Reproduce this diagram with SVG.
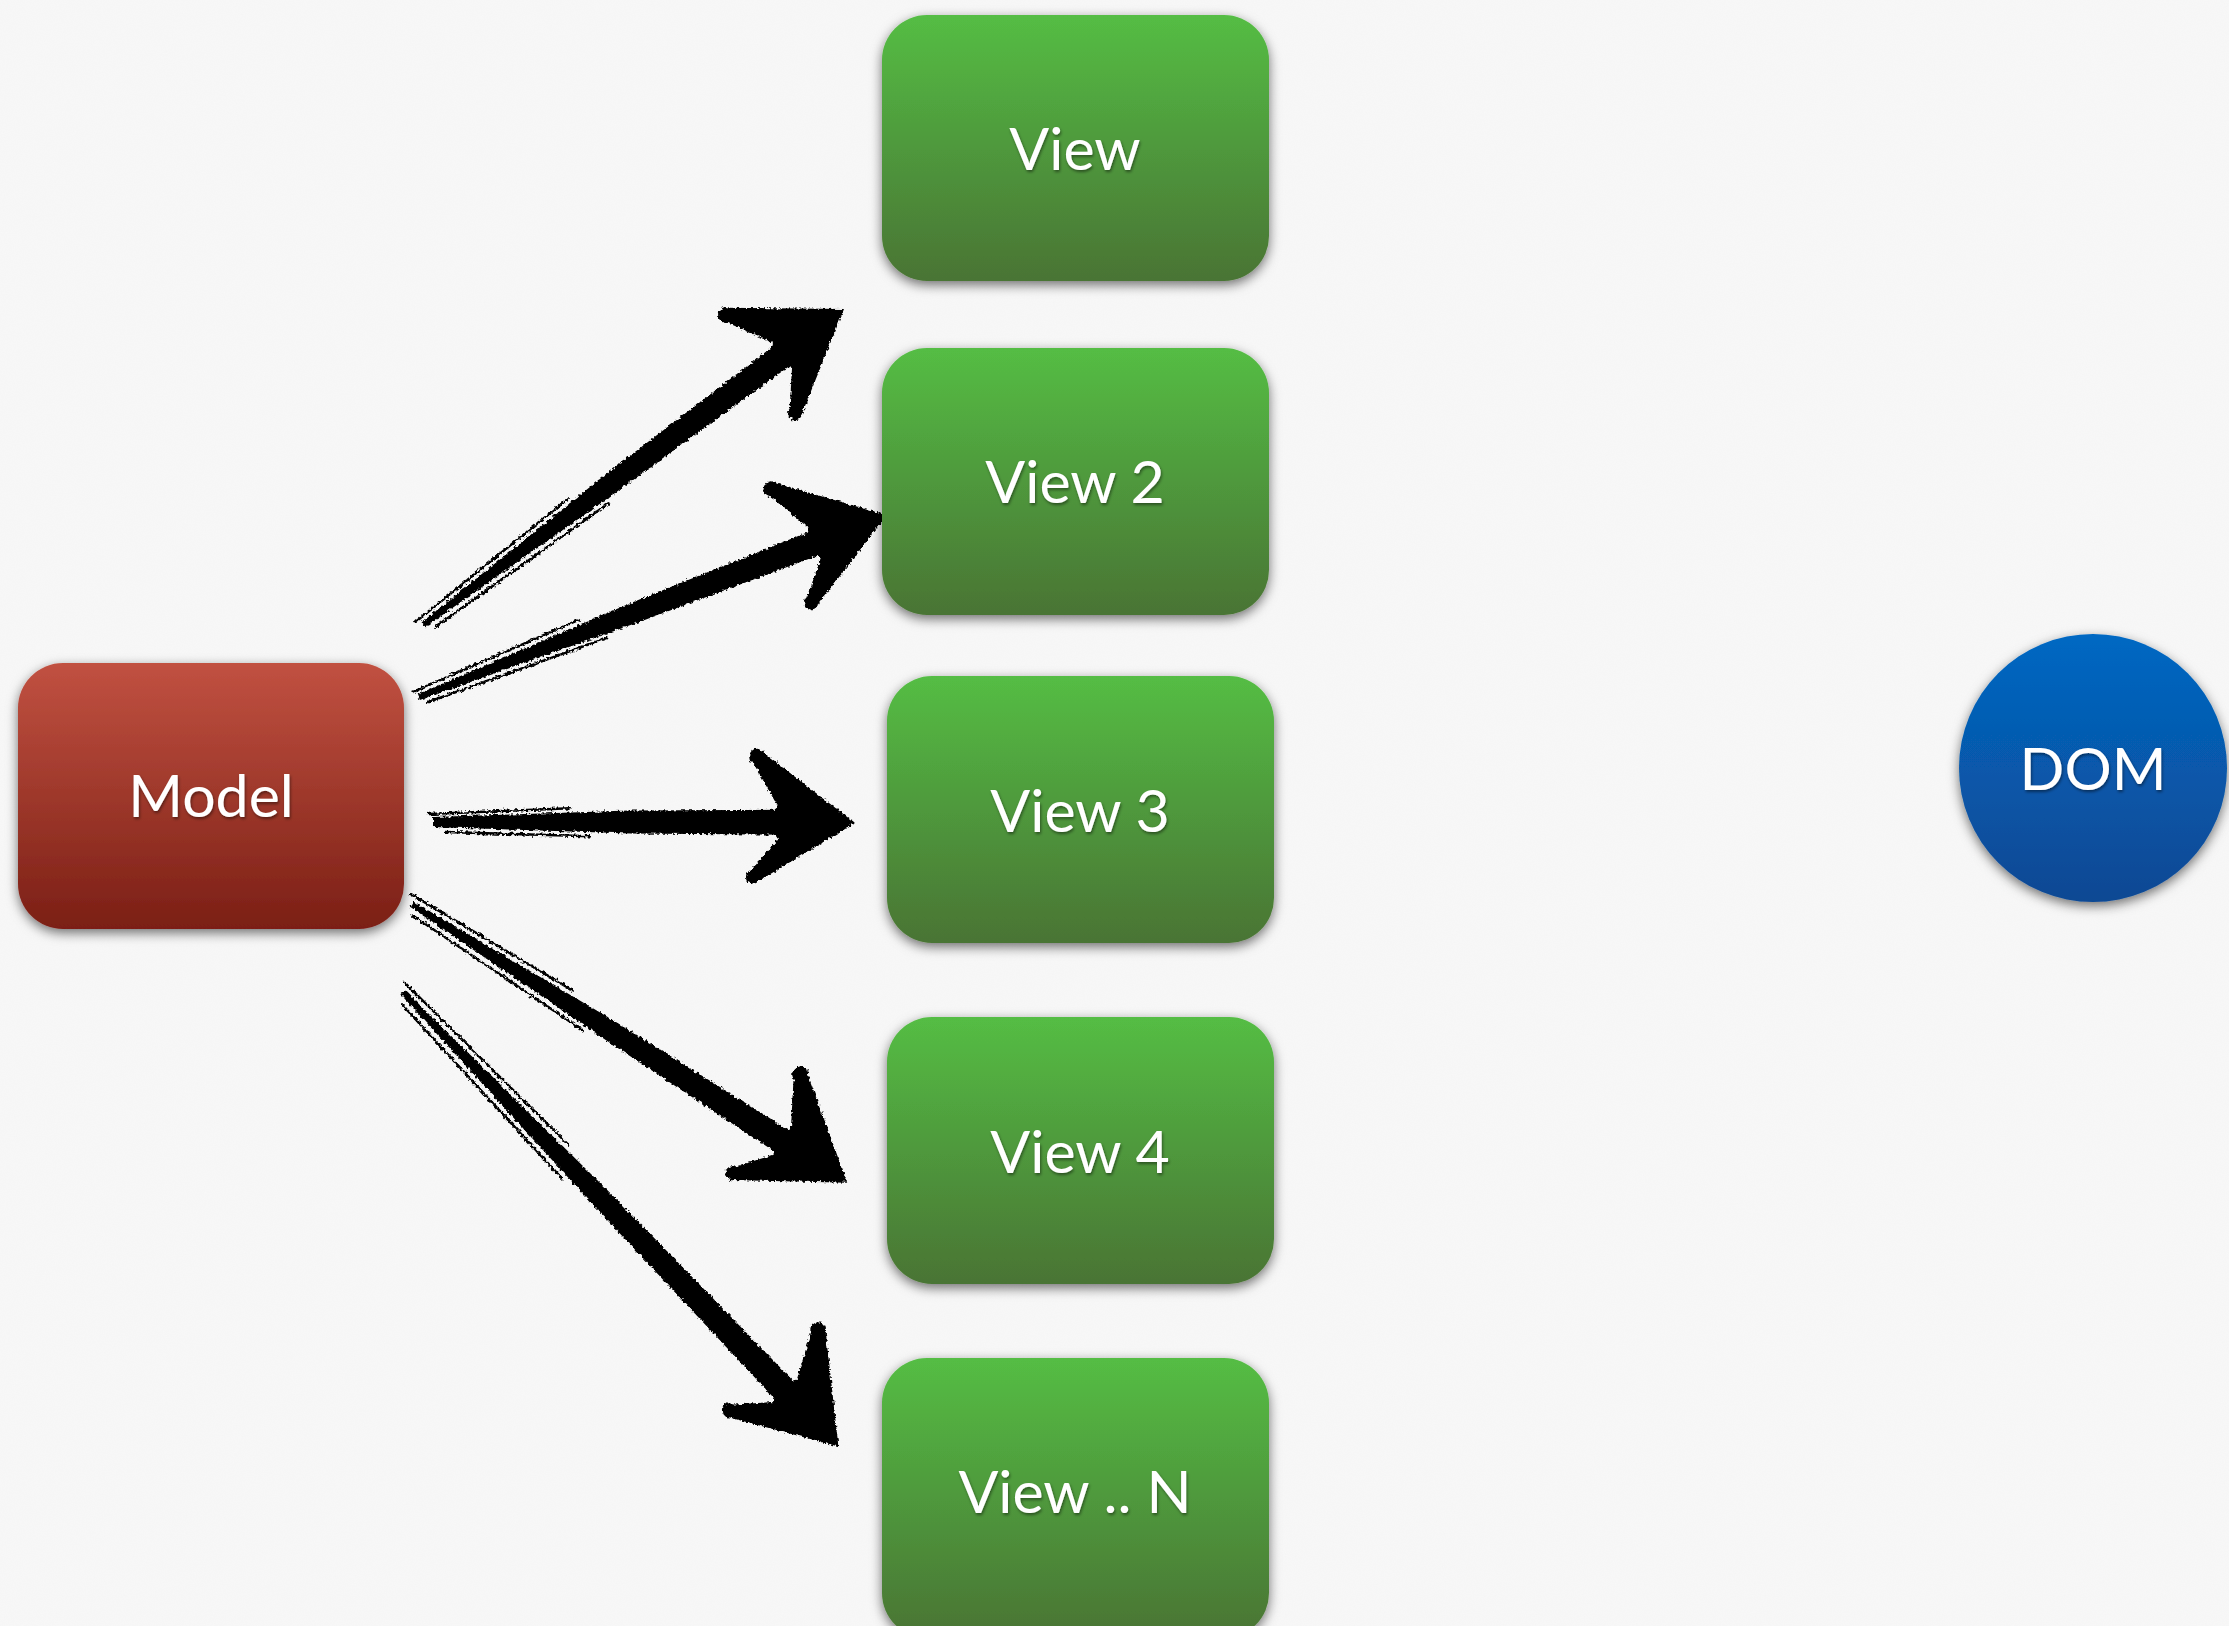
<svg xmlns="http://www.w3.org/2000/svg" xmlns:xlink="http://www.w3.org/1999/xlink" width="2229" height="1626" viewBox="0 0 2229 1626">
  <style>
    .lbl { font-family: Lato, "Open Sans", "Liberation Sans", sans-serif; font-size: 59px; fill: #ffffff; text-anchor: middle; filter: url(#tshadow); }
    .view { fill: url(#gGreen); filter: url(#shadow); }
    .ink { fill: #000000; }
    .bristle { stroke: #000000; fill: none; stroke-linecap: round; }
  </style>
  <defs>
    <linearGradient id="gGreen" x1="0" y1="0" x2="0" y2="1">
      <stop offset="0" stop-color="#54bd44"/>
      <stop offset="1" stop-color="#4a7434"/>
    </linearGradient>
    <linearGradient id="gRed" x1="0" y1="0" x2="0" y2="1">
      <stop offset="0" stop-color="#c15141"/>
      <stop offset="1" stop-color="#7b1f15"/>
    </linearGradient>
    <linearGradient id="gBlue" x1="0" y1="0" x2="0" y2="1">
      <stop offset="0" stop-color="#0368c3"/>
      <stop offset="1" stop-color="#0b4893"/>
    </linearGradient>
    <filter id="shadow" x="-10%" y="-10%" width="120%" height="125%">
      <feDropShadow dx="0" dy="4" stdDeviation="6" flood-color="#000000" flood-opacity="0.55"/>
    </filter>
    <filter id="tshadow" x="-10%" y="-20%" width="120%" height="150%">
      <feDropShadow dx="1" dy="2" stdDeviation="1.5" flood-color="#000000" flood-opacity="0.45"/>
    </filter>
    <filter id="rough" x="-5%" y="-5%" width="110%" height="110%">
      <feTurbulence type="fractalNoise" baseFrequency="0.35" numOctaves="2" seed="3" result="n"/>
      <feDisplacementMap in="SourceGraphic" in2="n" scale="5" xChannelSelector="R" yChannelSelector="G"/>
    </filter>
    <filter id="paper" x="0" y="0" width="100%" height="100%">
      <feTurbulence type="fractalNoise" baseFrequency="0.9" numOctaves="2" seed="7"/>
      <feColorMatrix type="matrix" values="0 0 0 0 0.5  0 0 0 0 0.5  0 0 0 0 0.5  0 0 0 0.05 0"/>
    </filter>
    <g id="head">
      <path d="M -89,-72 L 5,0 L -94,60 L -100,49 L -72,16 L -84,0 L -72,-16 L -97,-60 Z"/>
      <circle cx="-93" cy="-66" r="8"/>
      <circle cx="-97" cy="54" r="7"/>
    </g>
  </defs>

  <rect x="0" y="0" width="2229" height="1626" fill="#f8f8f8"/>
  <rect x="0" y="0" width="2229" height="1626" filter="url(#paper)"/>

  <g id="connectors" class="ink" filter="url(#rough)">
    <g id="arrow-model-view" transform="translate(840,312) rotate(-36.9)">
      <path d="M -521,-3 L -280,-11 L -60,-13 L -60,13 L -280,10 L -521,3 Z"/>
      <path class="bristle" stroke-width="2.5" d="M -526,-7 L -330,-14"/>
      <path class="bristle" stroke-width="2.5" d="M -512,9 L -300,14"/>
      <use xlink:href="#head"/>
    </g>
    <g id="arrow-model-view2" transform="translate(882,517) rotate(-21.25)">
      <path d="M -497,-3 L -260,-11 L -60,-13 L -60,13 L -260,10 L -497,3 Z"/>
      <path class="bristle" stroke-width="2.5" d="M -501,-7 L -320,-14"/>
      <path class="bristle" stroke-width="2.5" d="M -490,8 L -300,13"/>
      <use xlink:href="#head"/>
    </g>
    <g id="arrow-model-view3" transform="translate(850,823) rotate(0.14)">
      <path d="M -417,-5 L -220,-12 L -60,-13 L -60,12 L -220,11 L -417,5 Z"/>
      <path class="bristle" stroke-width="2.5" d="M -421,-8 L -280,-14"/>
      <path class="bristle" stroke-width="2.5" d="M -405,10 L -260,14"/>
      <use xlink:href="#head"/>
    </g>
    <g id="arrow-model-view4" transform="translate(843,1180) rotate(32.6)">
      <path d="M -512,-3 L -270,-11 L -60,-13 L -60,13 L -270,10 L -512,3 Z"/>
      <path class="bristle" stroke-width="2.5" d="M -518,-8 L -330,-14"/>
      <path class="bristle" stroke-width="2.5" d="M -505,9 L -300,14"/>
      <use xlink:href="#head"/>
    </g>
    <g id="arrow-model-viewN" transform="translate(835,1443) rotate(46.2)">
      <path d="M -624,-3 L -330,-11 L -60,-13 L -60,13 L -330,10 L -624,3 Z"/>
      <path class="bristle" stroke-width="2.5" d="M -630,-8 L -400,-14"/>
      <path class="bristle" stroke-width="2.5" d="M -615,9 L -380,14"/>
      <use xlink:href="#head"/>
    </g>
  </g>

  <g id="node-model">
    <rect x="18" y="663" width="386" height="266" rx="45" ry="45" fill="url(#gRed)" filter="url(#shadow)"/>
    <text class="lbl" x="211" y="817">Model</text>
  </g>
  <g id="node-view">
    <rect class="view" x="882" y="15" width="387" height="266" rx="45" ry="45"/>
    <text class="lbl" x="1075" y="170">View</text>
  </g>
  <g id="node-view2">
    <rect class="view" x="882" y="348" width="387" height="267" rx="45" ry="45"/>
    <text class="lbl" x="1075" y="503">View 2</text>
  </g>
  <g id="node-view3">
    <rect class="view" x="887" y="676" width="387" height="267" rx="45" ry="45"/>
    <text class="lbl" x="1080" y="832">View 3</text>
  </g>
  <g id="node-view4">
    <rect class="view" x="887" y="1017" width="387" height="267" rx="45" ry="45"/>
    <text class="lbl" x="1080" y="1173">View 4</text>
  </g>
  <g id="node-viewN">
    <rect class="view" x="882" y="1358" width="387" height="280" rx="45" ry="45"/>
    <text class="lbl" x="1075" y="1513">View .. N</text>
  </g>
  <g id="node-dom">
    <circle cx="2093" cy="768" r="134" fill="url(#gBlue)" filter="url(#shadow)"/>
    <text class="lbl" x="2093" y="790">DOM</text>
  </g>
</svg>
